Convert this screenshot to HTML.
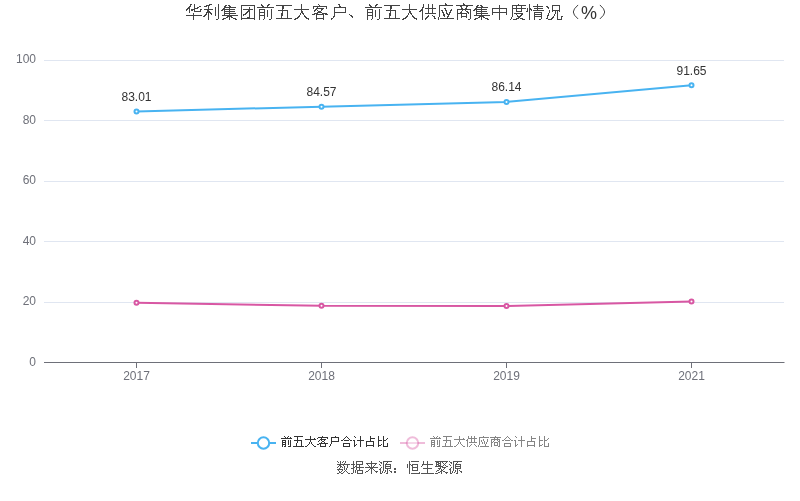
<!DOCTYPE html>
<html lang="zh"><head><meta charset="utf-8"><title>华利集团前五大客户、前五大供应商集中度情况（%）</title>
<style>html,body{margin:0;padding:0;background:#fff;overflow:hidden}svg{display:block}text{font-family:"Liberation Sans",sans-serif;font-size:12px}</style></head><body>
<div style="width:800px;height:501px;will-change:transform">
<svg width="800" height="501" viewBox="0 0 800 501">
<rect width="800" height="501" fill="#fff"/>
<g role="img" aria-label="华利集团前五大客户、前五大供应商集中度情况（%）"><title>华利集团前五大客户、前五大供应商集中度情况（%）</title><path fill="#444" shape-rendering="crispEdges" d="M190 4h2v1h-2zM194 4h1v1h-1zM190 5h1v1h-1zM194 5h1v1h-1zM189 6h2v1h-2zM194 6h1v1h-1zM199 6h2v1h-2zM188 7h2v1h-2zM194 7h1v1h-1zM197 7h2v1h-2zM187 8h3v1h-3zM194 8h4v1h-4zM186 9h2v1h-2zM189 9h1v1h-1zM191 9h4v1h-4zM200 9h2v1h-2zM186 10h1v1h-1zM189 10h1v1h-1zM191 10h2v1h-2zM194 10h1v1h-1zM200 10h1v1h-1zM189 11h1v1h-1zM194 11h7v1h-7zM189 12h1v1h-1zM193 13h1v1h-1zM193 14h1v1h-1zM186 15h16v1h-16zM193 16h1v1h-1zM193 17h1v1h-1zM193 18h1v1h-1zM193 19h1v1h-1zM209 4h3v1h-3zM218 4h1v1h-1zM206 5h4v1h-4zM218 5h1v1h-1zM204 6h3v1h-3zM208 6h1v1h-1zM218 6h1v1h-1zM208 7h1v1h-1zM215 7h1v1h-1zM218 7h1v1h-1zM208 8h1v1h-1zM215 8h1v1h-1zM218 8h1v1h-1zM204 9h9v1h-9zM215 9h1v1h-1zM218 9h1v1h-1zM207 10h2v1h-2zM215 10h1v1h-1zM218 10h1v1h-1zM207 11h3v1h-3zM215 11h1v1h-1zM218 11h1v1h-1zM206 12h5v1h-5zM215 12h1v1h-1zM218 12h1v1h-1zM206 13h1v1h-1zM208 13h1v1h-1zM210 13h2v1h-2zM215 13h1v1h-1zM218 13h1v1h-1zM205 14h2v1h-2zM208 14h1v1h-1zM211 14h1v1h-1zM215 14h1v1h-1zM218 14h1v1h-1zM204 15h2v1h-2zM208 15h1v1h-1zM215 15h1v1h-1zM218 15h1v1h-1zM203 16h2v1h-2zM208 16h1v1h-1zM218 16h1v1h-1zM208 17h1v1h-1zM218 17h1v1h-1zM208 18h1v1h-1zM218 18h1v1h-1zM208 19h1v1h-1zM216 19h2v1h-2zM225 5h2v1h-2zM228 5h2v1h-2zM224 6h2v1h-2zM229 6h2v1h-2zM224 7h12v1h-12zM223 8h2v1h-2zM229 8h1v1h-1zM222 9h13v1h-13zM221 10h2v1h-2zM224 10h1v1h-1zM229 10h1v1h-1zM224 11h11v1h-11zM224 12h1v1h-1zM229 12h1v1h-1zM224 13h12v1h-12zM224 14h1v1h-1zM229 14h1v1h-1zM222 15h16v1h-16zM227 16h5v1h-5zM226 17h2v1h-2zM229 17h1v1h-1zM231 17h2v1h-2zM223 18h3v1h-3zM229 18h1v1h-1zM233 18h3v1h-3zM222 19h2v1h-2zM229 19h1v1h-1zM235 19h2v1h-2zM241 5h14v1h-14zM241 6h1v1h-1zM254 6h1v1h-1zM241 7h1v1h-1zM249 7h1v1h-1zM254 7h1v1h-1zM241 8h1v1h-1zM249 8h1v1h-1zM254 8h1v1h-1zM241 9h1v1h-1zM243 9h10v1h-10zM254 9h1v1h-1zM241 10h1v1h-1zM248 10h2v1h-2zM254 10h1v1h-1zM241 11h1v1h-1zM247 11h3v1h-3zM254 11h1v1h-1zM241 12h1v1h-1zM246 12h2v1h-2zM249 12h1v1h-1zM254 12h1v1h-1zM241 13h1v1h-1zM245 13h2v1h-2zM249 13h1v1h-1zM254 13h1v1h-1zM241 14h1v1h-1zM243 14h3v1h-3zM249 14h1v1h-1zM254 14h1v1h-1zM241 15h1v1h-1zM243 15h1v1h-1zM249 15h1v1h-1zM254 15h1v1h-1zM241 16h1v1h-1zM249 16h1v1h-1zM254 16h1v1h-1zM241 17h1v1h-1zM247 17h3v1h-3zM254 17h1v1h-1zM241 18h14v1h-14zM241 19h1v1h-1zM254 19h1v1h-1zM261 4h1v1h-1zM268 4h2v1h-2zM261 5h2v1h-2zM267 5h2v1h-2zM262 6h2v1h-2zM267 6h1v1h-1zM257 7h17v1h-17zM259 9h6v1h-6zM271 9h1v1h-1zM259 10h1v1h-1zM264 10h1v1h-1zM267 10h1v1h-1zM271 10h1v1h-1zM259 11h1v1h-1zM264 11h1v1h-1zM267 11h1v1h-1zM271 11h1v1h-1zM259 12h6v1h-6zM267 12h1v1h-1zM271 12h1v1h-1zM259 13h1v1h-1zM264 13h1v1h-1zM267 13h1v1h-1zM271 13h1v1h-1zM259 14h1v1h-1zM264 14h1v1h-1zM267 14h1v1h-1zM271 14h1v1h-1zM259 15h6v1h-6zM267 15h1v1h-1zM271 15h1v1h-1zM259 16h1v1h-1zM264 16h1v1h-1zM267 16h1v1h-1zM271 16h1v1h-1zM259 17h1v1h-1zM264 17h1v1h-1zM271 17h1v1h-1zM259 18h1v1h-1zM264 18h1v1h-1zM271 18h1v1h-1zM259 19h1v1h-1zM263 19h1v1h-1zM269 19h2v1h-2zM276 5h16v1h-16zM282 6h2v1h-2zM282 7h2v1h-2zM282 8h2v1h-2zM282 9h1v1h-1zM278 10h10v1h-10zM282 11h1v1h-1zM287 11h1v1h-1zM282 12h1v1h-1zM287 12h1v1h-1zM281 13h2v1h-2zM287 13h1v1h-1zM281 14h2v1h-2zM287 14h1v1h-1zM281 15h2v1h-2zM287 15h1v1h-1zM281 16h1v1h-1zM287 16h1v1h-1zM281 17h1v1h-1zM287 17h1v1h-1zM276 18h16v1h-16zM301 4h1v1h-1zM301 5h1v1h-1zM301 6h1v1h-1zM301 7h1v1h-1zM301 8h1v1h-1zM294 9h15v1h-15zM301 10h1v1h-1zM301 11h2v1h-2zM301 12h2v1h-2zM300 13h1v1h-1zM302 13h2v1h-2zM300 14h1v1h-1zM303 14h1v1h-1zM299 15h1v1h-1zM304 15h1v1h-1zM298 16h2v1h-2zM304 16h2v1h-2zM297 17h2v1h-2zM305 17h2v1h-2zM295 18h3v1h-3zM306 18h3v1h-3zM294 19h2v1h-2zM308 19h1v1h-1zM318 4h1v1h-1zM319 5h1v1h-1zM313 6h14v1h-14zM313 7h1v1h-1zM317 7h1v1h-1zM326 7h1v1h-1zM313 8h1v1h-1zM316 8h8v1h-8zM326 8h1v1h-1zM315 9h2v1h-2zM321 9h2v1h-2zM314 10h2v1h-2zM317 10h1v1h-1zM321 10h1v1h-1zM314 11h1v1h-1zM318 11h3v1h-3zM317 12h5v1h-5zM314 13h4v1h-4zM322 13h5v1h-5zM312 14h3v1h-3zM316 14h8v1h-8zM325 14h3v1h-3zM316 15h1v1h-1zM323 15h1v1h-1zM316 16h1v1h-1zM323 16h1v1h-1zM316 17h1v1h-1zM323 17h1v1h-1zM316 18h8v1h-8zM316 19h1v1h-1zM323 19h1v1h-1zM338 4h2v1h-2zM339 5h1v1h-1zM339 6h2v1h-2zM334 7h12v1h-12zM334 8h1v1h-1zM345 8h1v1h-1zM334 9h1v1h-1zM345 9h1v1h-1zM334 10h1v1h-1zM345 10h1v1h-1zM334 11h1v1h-1zM345 11h1v1h-1zM334 12h12v1h-12zM334 13h1v1h-1zM334 14h1v1h-1zM334 15h1v1h-1zM333 16h2v1h-2zM333 17h1v1h-1zM331 18h2v1h-2zM331 19h1v1h-1zM349 14h1v1h-1zM350 15h2v1h-2zM351 16h2v1h-2zM352 17h1v1h-1zM369 4h1v1h-1zM376 4h2v1h-2zM369 5h2v1h-2zM375 5h2v1h-2zM370 6h2v1h-2zM375 6h1v1h-1zM365 7h17v1h-17zM367 9h6v1h-6zM379 9h1v1h-1zM367 10h1v1h-1zM372 10h1v1h-1zM375 10h1v1h-1zM379 10h1v1h-1zM367 11h1v1h-1zM372 11h1v1h-1zM375 11h1v1h-1zM379 11h1v1h-1zM367 12h6v1h-6zM375 12h1v1h-1zM379 12h1v1h-1zM367 13h1v1h-1zM372 13h1v1h-1zM375 13h1v1h-1zM379 13h1v1h-1zM367 14h1v1h-1zM372 14h1v1h-1zM375 14h1v1h-1zM379 14h1v1h-1zM367 15h6v1h-6zM375 15h1v1h-1zM379 15h1v1h-1zM367 16h1v1h-1zM372 16h1v1h-1zM375 16h1v1h-1zM379 16h1v1h-1zM367 17h1v1h-1zM372 17h1v1h-1zM379 17h1v1h-1zM367 18h1v1h-1zM372 18h1v1h-1zM379 18h1v1h-1zM367 19h1v1h-1zM371 19h1v1h-1zM377 19h2v1h-2zM384 5h16v1h-16zM390 6h2v1h-2zM390 7h2v1h-2zM390 8h2v1h-2zM390 9h1v1h-1zM386 10h10v1h-10zM390 11h1v1h-1zM395 11h1v1h-1zM390 12h1v1h-1zM395 12h1v1h-1zM389 13h2v1h-2zM395 13h1v1h-1zM389 14h2v1h-2zM395 14h1v1h-1zM389 15h2v1h-2zM395 15h1v1h-1zM389 16h1v1h-1zM395 16h1v1h-1zM389 17h1v1h-1zM395 17h1v1h-1zM384 18h16v1h-16zM409 4h1v1h-1zM409 5h1v1h-1zM409 6h1v1h-1zM409 7h1v1h-1zM409 8h1v1h-1zM402 9h15v1h-15zM409 10h1v1h-1zM409 11h2v1h-2zM409 12h2v1h-2zM408 13h1v1h-1zM410 13h2v1h-2zM408 14h1v1h-1zM411 14h1v1h-1zM407 15h1v1h-1zM412 15h1v1h-1zM406 16h2v1h-2zM412 16h2v1h-2zM405 17h2v1h-2zM413 17h2v1h-2zM403 18h3v1h-3zM414 18h3v1h-3zM402 19h2v1h-2zM416 19h1v1h-1zM423 4h1v1h-1zM428 4h1v1h-1zM432 4h1v1h-1zM423 5h1v1h-1zM428 5h1v1h-1zM432 5h1v1h-1zM423 6h1v1h-1zM428 6h1v1h-1zM432 6h1v1h-1zM422 7h2v1h-2zM428 7h1v1h-1zM432 7h1v1h-1zM422 8h1v1h-1zM425 8h11v1h-11zM421 9h2v1h-2zM428 9h1v1h-1zM432 9h1v1h-1zM420 10h3v1h-3zM428 10h1v1h-1zM432 10h1v1h-1zM419 11h2v1h-2zM422 11h1v1h-1zM428 11h1v1h-1zM432 11h1v1h-1zM422 12h1v1h-1zM428 12h1v1h-1zM432 12h1v1h-1zM422 13h1v1h-1zM425 13h11v1h-11zM422 14h1v1h-1zM422 15h1v1h-1zM428 15h1v1h-1zM432 15h1v1h-1zM422 16h1v1h-1zM427 16h2v1h-2zM433 16h2v1h-2zM422 17h1v1h-1zM426 17h2v1h-2zM434 17h1v1h-1zM422 18h1v1h-1zM425 18h2v1h-2zM434 18h2v1h-2zM422 19h1v1h-1zM425 19h1v1h-1zM445 3h1v1h-1zM445 4h2v1h-2zM439 5h14v1h-14zM439 6h1v1h-1zM439 7h1v1h-1zM439 8h1v1h-1zM444 8h2v1h-2zM439 9h1v1h-1zM445 9h1v1h-1zM451 9h1v1h-1zM439 10h1v1h-1zM441 10h2v1h-2zM445 10h2v1h-2zM450 10h2v1h-2zM439 11h1v1h-1zM442 11h1v1h-1zM446 11h1v1h-1zM450 11h1v1h-1zM439 12h1v1h-1zM442 12h2v1h-2zM446 12h1v1h-1zM449 12h2v1h-2zM439 13h1v1h-1zM443 13h1v1h-1zM446 13h2v1h-2zM449 13h1v1h-1zM439 14h1v1h-1zM443 14h2v1h-2zM447 14h3v1h-3zM439 15h1v1h-1zM443 15h2v1h-2zM448 15h1v1h-1zM439 16h1v1h-1zM444 16h1v1h-1zM447 16h2v1h-2zM438 17h1v1h-1zM447 17h1v1h-1zM438 18h1v1h-1zM440 18h14v1h-14zM438 19h1v1h-1zM463 3h1v1h-1zM463 4h2v1h-2zM456 5h17v1h-17zM460 6h2v1h-2zM466 6h2v1h-2zM461 7h1v1h-1zM466 7h1v1h-1zM461 8h2v1h-2zM465 8h2v1h-2zM457 9h14v1h-14zM457 10h1v1h-1zM462 10h1v1h-1zM465 10h1v1h-1zM470 10h1v1h-1zM457 11h1v1h-1zM461 11h1v1h-1zM466 11h2v1h-2zM470 11h1v1h-1zM457 12h1v1h-1zM460 12h2v1h-2zM467 12h2v1h-2zM470 12h1v1h-1zM457 13h10v1h-10zM468 13h1v1h-1zM470 13h1v1h-1zM457 14h1v1h-1zM461 14h1v1h-1zM466 14h1v1h-1zM470 14h1v1h-1zM457 15h1v1h-1zM461 15h1v1h-1zM466 15h1v1h-1zM470 15h1v1h-1zM457 16h1v1h-1zM461 16h6v1h-6zM470 16h1v1h-1zM457 17h1v1h-1zM461 17h1v1h-1zM466 17h1v1h-1zM470 17h1v1h-1zM457 18h1v1h-1zM470 18h1v1h-1zM457 19h1v1h-1zM468 19h2v1h-2zM477 5h2v1h-2zM480 5h2v1h-2zM476 6h2v1h-2zM481 6h2v1h-2zM476 7h12v1h-12zM475 8h2v1h-2zM481 8h1v1h-1zM474 9h13v1h-13zM473 10h2v1h-2zM476 10h1v1h-1zM481 10h1v1h-1zM476 11h11v1h-11zM476 12h1v1h-1zM481 12h1v1h-1zM476 13h12v1h-12zM476 14h1v1h-1zM481 14h1v1h-1zM474 15h16v1h-16zM479 16h5v1h-5zM478 17h2v1h-2zM481 17h1v1h-1zM483 17h2v1h-2zM475 18h3v1h-3zM481 18h1v1h-1zM485 18h3v1h-3zM474 19h2v1h-2zM481 19h1v1h-1zM487 19h2v1h-2zM499 5h1v1h-1zM499 6h1v1h-1zM499 7h1v1h-1zM492 8h15v1h-15zM492 9h1v1h-1zM499 9h1v1h-1zM506 9h1v1h-1zM492 10h1v1h-1zM499 10h1v1h-1zM506 10h1v1h-1zM492 11h1v1h-1zM499 11h1v1h-1zM506 11h1v1h-1zM492 12h15v1h-15zM492 13h1v1h-1zM499 13h1v1h-1zM506 13h1v1h-1zM492 14h1v1h-1zM499 14h1v1h-1zM506 14h1v1h-1zM499 15h1v1h-1zM499 16h1v1h-1zM499 17h1v1h-1zM499 18h1v1h-1zM499 19h1v1h-1zM518 4h1v1h-1zM512 5h14v1h-14zM512 6h1v1h-1zM516 6h1v1h-1zM521 6h1v1h-1zM512 7h1v1h-1zM516 7h1v1h-1zM521 7h1v1h-1zM512 8h14v1h-14zM512 9h1v1h-1zM516 9h1v1h-1zM521 9h1v1h-1zM512 10h1v1h-1zM516 10h1v1h-1zM521 10h1v1h-1zM512 11h1v1h-1zM516 11h6v1h-6zM512 12h1v1h-1zM512 13h1v1h-1zM514 13h9v1h-9zM512 14h1v1h-1zM516 14h1v1h-1zM521 14h2v1h-2zM512 15h1v1h-1zM517 15h1v1h-1zM520 15h2v1h-2zM512 16h1v1h-1zM517 16h4v1h-4zM511 17h1v1h-1zM518 17h2v1h-2zM511 18h1v1h-1zM516 18h3v1h-3zM520 18h3v1h-3zM510 19h1v1h-1zM513 19h4v1h-4zM522 19h3v1h-3zM529 4h1v1h-1zM537 4h1v1h-1zM529 5h1v1h-1zM537 5h1v1h-1zM529 6h1v1h-1zM533 6h10v1h-10zM529 7h1v1h-1zM537 7h1v1h-1zM527 8h1v1h-1zM529 8h2v1h-2zM534 8h9v1h-9zM527 9h1v1h-1zM529 9h3v1h-3zM537 9h1v1h-1zM527 10h1v1h-1zM529 10h1v1h-1zM531 10h1v1h-1zM533 10h11v1h-11zM526 11h2v1h-2zM529 11h1v1h-1zM529 12h1v1h-1zM534 12h8v1h-8zM529 13h1v1h-1zM534 13h1v1h-1zM541 13h1v1h-1zM529 14h1v1h-1zM534 14h8v1h-8zM529 15h1v1h-1zM534 15h1v1h-1zM541 15h1v1h-1zM529 16h1v1h-1zM534 16h8v1h-8zM529 17h1v1h-1zM534 17h1v1h-1zM541 17h1v1h-1zM529 18h1v1h-1zM534 18h1v1h-1zM541 18h1v1h-1zM529 19h1v1h-1zM534 19h1v1h-1zM539 19h2v1h-2zM552 5h8v1h-8zM546 6h2v1h-2zM552 6h1v1h-1zM559 6h1v1h-1zM547 7h2v1h-2zM552 7h1v1h-1zM559 7h1v1h-1zM548 8h1v1h-1zM552 8h1v1h-1zM559 8h1v1h-1zM552 9h1v1h-1zM559 9h1v1h-1zM549 10h1v1h-1zM552 10h8v1h-8zM549 11h1v1h-1zM552 11h1v1h-1zM555 11h1v1h-1zM557 11h1v1h-1zM559 11h1v1h-1zM549 12h1v1h-1zM555 12h1v1h-1zM557 12h1v1h-1zM548 13h1v1h-1zM555 13h1v1h-1zM557 13h1v1h-1zM548 14h1v1h-1zM554 14h1v1h-1zM557 14h1v1h-1zM547 15h2v1h-2zM554 15h1v1h-1zM557 15h1v1h-1zM547 16h1v1h-1zM553 16h1v1h-1zM557 16h1v1h-1zM561 16h2v1h-2zM547 17h1v1h-1zM552 17h2v1h-2zM557 17h1v1h-1zM561 17h1v1h-1zM546 18h2v1h-2zM551 18h2v1h-2zM557 18h1v1h-1zM561 18h1v1h-1zM548 19h4v1h-4zM557 19h5v1h-5z"/>
<path fill="none" stroke="#444" stroke-width="1" stroke-linecap="round" d="M577.8 5.2Q573.2 9.2 573.3 12Q573.2 14.8 577.8 18.7M600.2 5.2Q604.8 9.2 604.7 12Q604.8 14.8 600.2 18.7"/>
<text x="581" y="19" style="font-size:18px" fill="#333">%</text></g>
<path stroke="#e0e6f1" stroke-width="1" fill="none" d="M44 60.5H784M44 120.5H784M44 181.5H784M44 241.5H784M44 302.5H784"/>
<path stroke="#6e7079" stroke-width="1" fill="none" d="M44 362.5H784.5M136.5 362.5V368M321.5 362.5V368M506.5 362.5V368M691.5 362.5V368"/>
<text x="36" y="63" text-anchor="end" fill="#6e7079">100</text>
<text x="36" y="124" text-anchor="end" fill="#6e7079">80</text>
<text x="36" y="184" text-anchor="end" fill="#6e7079">60</text>
<text x="36" y="245" text-anchor="end" fill="#6e7079">40</text>
<text x="36" y="305" text-anchor="end" fill="#6e7079">20</text>
<text x="36" y="366" text-anchor="end" fill="#6e7079">0</text>
<text x="136.5" y="380" text-anchor="middle" fill="#6e7079">2017</text>
<text x="321.5" y="380" text-anchor="middle" fill="#6e7079">2018</text>
<text x="506.5" y="380" text-anchor="middle" fill="#6e7079">2019</text>
<text x="691.5" y="380" text-anchor="middle" fill="#6e7079">2021</text>
<polyline fill="none" stroke="#d857a3" stroke-width="2" stroke-linejoin="bevel" points="136.5,302.86 321.5,305.76 506.5,305.97 691.5,301.56"/>
<circle cx="136.5" cy="302.86" r="2" fill="#fff" stroke="#d857a3" stroke-width="2"/>
<circle cx="321.5" cy="305.76" r="2" fill="#fff" stroke="#d857a3" stroke-width="2"/>
<circle cx="506.5" cy="305.97" r="2" fill="#fff" stroke="#d857a3" stroke-width="2"/>
<circle cx="691.5" cy="301.56" r="2" fill="#fff" stroke="#d857a3" stroke-width="2"/>
<polyline fill="none" stroke="#48b3f1" stroke-width="2" stroke-linejoin="bevel" points="136.5,111.38 321.5,106.66 506.5,101.91 691.5,85.25"/>
<circle cx="136.5" cy="111.38" r="2" fill="#fff" stroke="#48b3f1" stroke-width="2"/>
<circle cx="321.5" cy="106.66" r="2" fill="#fff" stroke="#48b3f1" stroke-width="2"/>
<circle cx="506.5" cy="101.91" r="2" fill="#fff" stroke="#48b3f1" stroke-width="2"/>
<circle cx="691.5" cy="85.25" r="2" fill="#fff" stroke="#48b3f1" stroke-width="2"/>
<text x="136.5" y="101" text-anchor="middle" fill="#333">83.01</text>
<text x="321.5" y="96" text-anchor="middle" fill="#333">84.57</text>
<text x="506.5" y="91" text-anchor="middle" fill="#333">86.14</text>
<text x="691.5" y="75" text-anchor="middle" fill="#333">91.65</text>
<path stroke="#48b3f1" stroke-width="2" fill="none" d="M251 443H276"/>
<circle cx="263.5" cy="443" r="5.7" fill="#fff" stroke="#48b3f1" stroke-width="2"/>
<g role="img" aria-label="前五大客户合计占比"><title>前五大客户合计占比</title><path fill="#333" shape-rendering="crispEdges" d="M284 436h1v1h-1zM288 436h1v1h-1zM285 437h1v1h-1zM287 437h1v1h-1zM290 437h1v1h-1zM281 438h11v1h-11zM282 440h4v1h-4zM288 440h1v1h-1zM290 440h1v1h-1zM282 441h1v1h-1zM285 441h1v1h-1zM288 441h1v1h-1zM290 441h1v1h-1zM282 442h4v1h-4zM288 442h1v1h-1zM290 442h1v1h-1zM282 443h1v1h-1zM285 443h1v1h-1zM288 443h1v1h-1zM290 443h1v1h-1zM282 444h4v1h-4zM288 444h1v1h-1zM290 444h1v1h-1zM282 445h1v1h-1zM285 445h1v1h-1zM290 445h1v1h-1zM282 446h1v1h-1zM284 446h2v1h-2zM288 446h3v1h-3zM294 436h9v1h-9zM297 437h1v1h-1zM297 438h1v1h-1zM297 439h1v1h-1zM294 440h8v1h-8zM297 441h1v1h-1zM301 441h1v1h-1zM297 442h1v1h-1zM301 442h1v1h-1zM296 443h1v1h-1zM301 443h1v1h-1zM296 444h1v1h-1zM301 444h1v1h-1zM296 445h1v1h-1zM301 445h1v1h-1zM293 446h11v1h-11zM310 436h1v1h-1zM310 437h1v1h-1zM310 438h1v1h-1zM314 438h1v1h-1zM305 439h11v1h-11zM310 440h1v1h-1zM310 441h1v1h-1zM309 442h1v1h-1zM311 442h1v1h-1zM309 443h1v1h-1zM311 443h1v1h-1zM308 444h1v1h-1zM312 444h1v1h-1zM307 445h1v1h-1zM313 445h1v1h-1zM305 446h2v1h-2zM314 446h2v1h-2zM322 436h1v1h-1zM318 437h10v1h-10zM317 438h1v1h-1zM321 438h1v1h-1zM327 438h1v1h-1zM320 439h6v1h-6zM319 440h1v1h-1zM321 440h1v1h-1zM324 440h1v1h-1zM318 441h1v1h-1zM322 441h2v1h-2zM321 442h1v1h-1zM324 442h1v1h-1zM319 443h9v1h-9zM317 444h2v1h-2zM320 444h1v1h-1zM325 444h1v1h-1zM320 445h1v1h-1zM325 445h1v1h-1zM320 446h6v1h-6zM335 436h1v1h-1zM331 437h8v1h-8zM331 438h1v1h-1zM338 438h1v1h-1zM331 439h1v1h-1zM338 439h1v1h-1zM331 440h1v1h-1zM338 440h1v1h-1zM331 441h8v1h-8zM331 442h1v1h-1zM331 443h1v1h-1zM330 444h1v1h-1zM330 445h1v1h-1zM329 446h1v1h-1zM346 436h1v1h-1zM345 437h1v1h-1zM347 437h1v1h-1zM344 438h1v1h-1zM348 438h1v1h-1zM343 439h1v1h-1zM349 439h1v1h-1zM341 440h2v1h-2zM344 440h5v1h-5zM350 440h2v1h-2zM343 443h7v1h-7zM343 444h1v1h-1zM349 444h1v1h-1zM343 445h1v1h-1zM349 445h1v1h-1zM343 446h7v1h-7zM354 436h1v1h-1zM360 436h1v1h-1zM355 437h1v1h-1zM360 437h1v1h-1zM360 438h1v1h-1zM360 439h1v1h-1zM353 440h2v1h-2zM357 440h7v1h-7zM354 441h1v1h-1zM360 441h1v1h-1zM354 442h1v1h-1zM360 442h1v1h-1zM354 443h1v1h-1zM360 443h1v1h-1zM354 444h1v1h-1zM356 444h1v1h-1zM360 444h1v1h-1zM354 445h2v1h-2zM360 445h1v1h-1zM354 446h1v1h-1zM360 446h1v1h-1zM370 436h1v1h-1zM370 437h1v1h-1zM370 438h5v1h-5zM370 439h1v1h-1zM370 440h1v1h-1zM366 441h8v1h-8zM366 442h1v1h-1zM373 442h1v1h-1zM366 443h1v1h-1zM373 443h1v1h-1zM366 444h1v1h-1zM373 444h1v1h-1zM366 445h8v1h-8zM366 446h1v1h-1zM373 446h1v1h-1zM378 436h1v1h-1zM383 436h1v1h-1zM378 437h1v1h-1zM383 437h1v1h-1zM378 438h1v1h-1zM383 438h1v1h-1zM387 438h1v1h-1zM378 439h1v1h-1zM383 439h1v1h-1zM386 439h1v1h-1zM378 440h4v1h-4zM383 440h3v1h-3zM378 441h1v1h-1zM383 441h1v1h-1zM378 442h1v1h-1zM383 442h1v1h-1zM378 443h1v1h-1zM383 443h1v1h-1zM387 443h1v1h-1zM378 444h1v1h-1zM381 444h1v1h-1zM383 444h1v1h-1zM387 444h1v1h-1zM378 445h3v1h-3zM383 445h1v1h-1zM387 445h1v1h-1zM378 446h1v1h-1zM383 446h5v1h-5z"/></g>
<path stroke="#d857a3" stroke-opacity="0.4" stroke-width="2" fill="none" d="M400 443H425"/>
<circle cx="412.5" cy="443" r="5.7" fill="#fff" fill-opacity="0.4" stroke="#d857a3" stroke-opacity="0.4" stroke-width="2"/>
<g role="img" aria-label="前五大供应商合计占比"><title>前五大供应商合计占比</title><path fill="#858585" shape-rendering="crispEdges" d="M433 436h1v1h-1zM437 436h1v1h-1zM434 437h1v1h-1zM436 437h1v1h-1zM439 437h1v1h-1zM430 438h11v1h-11zM431 440h4v1h-4zM437 440h1v1h-1zM439 440h1v1h-1zM431 441h1v1h-1zM434 441h1v1h-1zM437 441h1v1h-1zM439 441h1v1h-1zM431 442h4v1h-4zM437 442h1v1h-1zM439 442h1v1h-1zM431 443h1v1h-1zM434 443h1v1h-1zM437 443h1v1h-1zM439 443h1v1h-1zM431 444h4v1h-4zM437 444h1v1h-1zM439 444h1v1h-1zM431 445h1v1h-1zM434 445h1v1h-1zM439 445h1v1h-1zM431 446h1v1h-1zM433 446h2v1h-2zM437 446h3v1h-3zM443 436h9v1h-9zM446 437h1v1h-1zM446 438h1v1h-1zM446 439h1v1h-1zM443 440h8v1h-8zM446 441h1v1h-1zM450 441h1v1h-1zM446 442h1v1h-1zM450 442h1v1h-1zM445 443h1v1h-1zM450 443h1v1h-1zM445 444h1v1h-1zM450 444h1v1h-1zM445 445h1v1h-1zM450 445h1v1h-1zM442 446h11v1h-11zM459 436h1v1h-1zM459 437h1v1h-1zM459 438h1v1h-1zM463 438h1v1h-1zM454 439h11v1h-11zM459 440h1v1h-1zM459 441h1v1h-1zM458 442h1v1h-1zM460 442h1v1h-1zM458 443h1v1h-1zM460 443h1v1h-1zM457 444h1v1h-1zM461 444h1v1h-1zM456 445h1v1h-1zM462 445h1v1h-1zM454 446h2v1h-2zM463 446h2v1h-2zM468 436h1v1h-1zM471 436h1v1h-1zM474 436h1v1h-1zM468 437h1v1h-1zM471 437h1v1h-1zM474 437h1v1h-1zM468 438h9v1h-9zM467 439h1v1h-1zM471 439h1v1h-1zM474 439h1v1h-1zM466 440h2v1h-2zM471 440h1v1h-1zM474 440h1v1h-1zM467 441h1v1h-1zM471 441h1v1h-1zM474 441h1v1h-1zM467 442h1v1h-1zM469 442h8v1h-8zM467 443h1v1h-1zM467 444h1v1h-1zM471 444h1v1h-1zM474 444h1v1h-1zM467 445h1v1h-1zM470 445h1v1h-1zM475 445h1v1h-1zM467 446h1v1h-1zM469 446h1v1h-1zM476 446h1v1h-1zM483 436h1v1h-1zM479 437h10v1h-10zM479 438h1v1h-1zM479 439h1v1h-1zM483 439h1v1h-1zM487 439h1v1h-1zM479 440h1v1h-1zM481 440h1v1h-1zM483 440h1v1h-1zM487 440h1v1h-1zM479 441h1v1h-1zM481 441h1v1h-1zM484 441h1v1h-1zM487 441h1v1h-1zM479 442h1v1h-1zM482 442h1v1h-1zM484 442h1v1h-1zM486 442h1v1h-1zM479 443h1v1h-1zM482 443h1v1h-1zM484 443h1v1h-1zM486 443h1v1h-1zM479 444h1v1h-1zM485 444h1v1h-1zM478 445h1v1h-1zM485 445h1v1h-1zM478 446h1v1h-1zM480 446h9v1h-9zM495 436h1v1h-1zM490 437h11v1h-11zM494 438h1v1h-1zM497 438h1v1h-1zM491 439h9v1h-9zM491 440h1v1h-1zM494 440h1v1h-1zM497 440h1v1h-1zM499 440h1v1h-1zM491 441h1v1h-1zM493 441h1v1h-1zM498 441h2v1h-2zM491 442h2v1h-2zM494 442h4v1h-4zM499 442h1v1h-1zM491 443h1v1h-1zM494 443h1v1h-1zM497 443h1v1h-1zM499 443h1v1h-1zM491 444h1v1h-1zM494 444h1v1h-1zM497 444h1v1h-1zM499 444h1v1h-1zM491 445h1v1h-1zM494 445h4v1h-4zM499 445h1v1h-1zM491 446h1v1h-1zM498 446h2v1h-2zM507 436h1v1h-1zM506 437h1v1h-1zM508 437h1v1h-1zM505 438h1v1h-1zM509 438h1v1h-1zM504 439h1v1h-1zM510 439h1v1h-1zM502 440h2v1h-2zM505 440h5v1h-5zM511 440h2v1h-2zM504 443h7v1h-7zM504 444h1v1h-1zM510 444h1v1h-1zM504 445h1v1h-1zM510 445h1v1h-1zM504 446h7v1h-7zM515 436h1v1h-1zM521 436h1v1h-1zM516 437h1v1h-1zM521 437h1v1h-1zM521 438h1v1h-1zM521 439h1v1h-1zM514 440h2v1h-2zM518 440h7v1h-7zM515 441h1v1h-1zM521 441h1v1h-1zM515 442h1v1h-1zM521 442h1v1h-1zM515 443h1v1h-1zM521 443h1v1h-1zM515 444h1v1h-1zM517 444h1v1h-1zM521 444h1v1h-1zM515 445h2v1h-2zM521 445h1v1h-1zM515 446h1v1h-1zM521 446h1v1h-1zM531 436h1v1h-1zM531 437h1v1h-1zM531 438h5v1h-5zM531 439h1v1h-1zM531 440h1v1h-1zM527 441h8v1h-8zM527 442h1v1h-1zM534 442h1v1h-1zM527 443h1v1h-1zM534 443h1v1h-1zM527 444h1v1h-1zM534 444h1v1h-1zM527 445h8v1h-8zM527 446h1v1h-1zM534 446h1v1h-1zM539 436h1v1h-1zM544 436h1v1h-1zM539 437h1v1h-1zM544 437h1v1h-1zM539 438h1v1h-1zM544 438h1v1h-1zM548 438h1v1h-1zM539 439h1v1h-1zM544 439h1v1h-1zM547 439h1v1h-1zM539 440h4v1h-4zM544 440h3v1h-3zM539 441h1v1h-1zM544 441h1v1h-1zM539 442h1v1h-1zM544 442h1v1h-1zM539 443h1v1h-1zM544 443h1v1h-1zM548 443h1v1h-1zM539 444h1v1h-1zM542 444h1v1h-1zM544 444h1v1h-1zM548 444h1v1h-1zM539 445h3v1h-3zM544 445h1v1h-1zM548 445h1v1h-1zM539 446h1v1h-1zM544 446h5v1h-5z"/></g>
<g role="img" aria-label="数据来源：恒生聚源"><title>数据来源：恒生聚源</title><path fill="#555" shape-rendering="crispEdges" d="M337 461h1v1h-1zM340 461h1v1h-1zM343 461h1v1h-1zM345 461h1v1h-1zM338 462h1v1h-1zM340 462h1v1h-1zM342 462h1v1h-1zM345 462h1v1h-1zM340 463h1v1h-1zM344 463h1v1h-1zM337 464h13v1h-13zM339 465h2v1h-2zM343 465h1v1h-1zM347 465h1v1h-1zM338 466h1v1h-1zM340 466h2v1h-2zM344 466h1v1h-1zM347 466h1v1h-1zM337 467h1v1h-1zM340 467h1v1h-1zM342 467h1v1h-1zM344 467h1v1h-1zM347 467h1v1h-1zM339 468h1v1h-1zM344 468h1v1h-1zM346 468h1v1h-1zM337 469h6v1h-6zM344 469h1v1h-1zM346 469h1v1h-1zM338 470h1v1h-1zM342 470h1v1h-1zM345 470h1v1h-1zM339 471h1v1h-1zM341 471h1v1h-1zM344 471h1v1h-1zM346 471h1v1h-1zM339 472h2v1h-2zM343 472h1v1h-1zM347 472h1v1h-1zM337 473h2v1h-2zM341 473h2v1h-2zM348 473h2v1h-2zM353 461h1v1h-1zM356 461h7v1h-7zM353 462h1v1h-1zM356 462h1v1h-1zM362 462h1v1h-1zM353 463h1v1h-1zM356 463h1v1h-1zM362 463h1v1h-1zM351 464h4v1h-4zM356 464h7v1h-7zM353 465h1v1h-1zM356 465h1v1h-1zM359 465h1v1h-1zM353 466h1v1h-1zM355 466h2v1h-2zM359 466h1v1h-1zM353 467h2v1h-2zM356 467h8v1h-8zM351 468h3v1h-3zM356 468h1v1h-1zM359 468h1v1h-1zM353 469h1v1h-1zM356 469h1v1h-1zM359 469h1v1h-1zM353 470h1v1h-1zM355 470h1v1h-1zM357 470h6v1h-6zM353 471h1v1h-1zM355 471h1v1h-1zM357 471h1v1h-1zM362 471h1v1h-1zM353 472h1v1h-1zM355 472h1v1h-1zM357 472h1v1h-1zM362 472h1v1h-1zM351 473h2v1h-2zM357 473h6v1h-6zM371 461h1v1h-1zM371 462h1v1h-1zM366 463h11v1h-11zM367 464h1v1h-1zM371 464h1v1h-1zM375 464h1v1h-1zM368 465h1v1h-1zM371 465h1v1h-1zM374 465h1v1h-1zM369 466h1v1h-1zM371 466h1v1h-1zM373 466h1v1h-1zM365 467h13v1h-13zM370 468h3v1h-3zM369 469h1v1h-1zM371 469h1v1h-1zM373 469h1v1h-1zM368 470h1v1h-1zM371 470h1v1h-1zM374 470h1v1h-1zM366 471h2v1h-2zM371 471h1v1h-1zM375 471h3v1h-3zM365 472h1v1h-1zM371 472h1v1h-1zM376 472h1v1h-1zM371 473h1v1h-1zM379 461h1v1h-1zM383 461h9v1h-9zM380 462h2v1h-2zM383 462h1v1h-1zM387 462h1v1h-1zM381 463h1v1h-1zM383 463h1v1h-1zM386 463h1v1h-1zM379 464h1v1h-1zM383 464h1v1h-1zM385 464h6v1h-6zM380 465h1v1h-1zM383 465h1v1h-1zM385 465h1v1h-1zM390 465h1v1h-1zM383 466h1v1h-1zM385 466h6v1h-6zM381 467h1v1h-1zM383 467h1v1h-1zM385 467h1v1h-1zM390 467h1v1h-1zM380 468h1v1h-1zM383 468h1v1h-1zM385 468h6v1h-6zM379 469h2v1h-2zM383 469h1v1h-1zM387 469h1v1h-1zM380 470h1v1h-1zM383 470h1v1h-1zM385 470h1v1h-1zM387 470h1v1h-1zM389 470h1v1h-1zM380 471h1v1h-1zM382 471h1v1h-1zM385 471h1v1h-1zM387 471h1v1h-1zM390 471h2v1h-2zM380 472h1v1h-1zM382 472h1v1h-1zM384 472h1v1h-1zM387 472h1v1h-1zM391 472h1v1h-1zM380 473h2v1h-2zM386 473h2v1h-2zM394 468h2v1h-2zM394 469h2v1h-2zM394 471h2v1h-2zM394 472h2v1h-2zM409 461h1v1h-1zM411 461h8v1h-8zM409 462h1v1h-1zM409 463h1v1h-1zM407 464h1v1h-1zM409 464h2v1h-2zM412 464h6v1h-6zM407 465h1v1h-1zM409 465h1v1h-1zM411 465h2v1h-2zM417 465h1v1h-1zM407 466h1v1h-1zM409 466h1v1h-1zM412 466h1v1h-1zM417 466h1v1h-1zM407 467h1v1h-1zM409 467h1v1h-1zM412 467h6v1h-6zM409 468h1v1h-1zM412 468h1v1h-1zM417 468h1v1h-1zM409 469h1v1h-1zM412 469h1v1h-1zM417 469h1v1h-1zM409 470h1v1h-1zM412 470h6v1h-6zM409 471h1v1h-1zM409 472h1v1h-1zM419 472h1v1h-1zM409 473h1v1h-1zM411 473h9v1h-9zM423 461h1v1h-1zM427 461h1v1h-1zM423 462h1v1h-1zM427 462h1v1h-1zM423 463h1v1h-1zM427 463h1v1h-1zM422 464h11v1h-11zM422 465h1v1h-1zM427 465h1v1h-1zM421 466h1v1h-1zM427 466h1v1h-1zM427 467h1v1h-1zM423 468h9v1h-9zM427 469h1v1h-1zM427 470h1v1h-1zM427 471h1v1h-1zM427 472h1v1h-1zM421 473h13v1h-13zM435 461h13v1h-13zM436 462h3v1h-3zM440 462h1v1h-1zM442 462h1v1h-1zM446 462h1v1h-1zM436 463h1v1h-1zM438 463h3v1h-3zM443 463h1v1h-1zM445 463h1v1h-1zM436 464h3v1h-3zM440 464h1v1h-1zM444 464h1v1h-1zM436 465h1v1h-1zM438 465h3v1h-3zM443 465h1v1h-1zM445 465h1v1h-1zM435 466h8v1h-8zM446 466h2v1h-2zM440 467h1v1h-1zM442 467h4v1h-4zM438 468h3v1h-3zM444 468h1v1h-1zM439 469h1v1h-1zM441 469h1v1h-1zM443 469h1v1h-1zM437 470h2v1h-2zM441 470h2v1h-2zM436 471h1v1h-1zM440 471h2v1h-2zM443 471h2v1h-2zM438 472h2v1h-2zM441 472h1v1h-1zM445 472h3v1h-3zM435 473h3v1h-3zM441 473h1v1h-1zM446 473h1v1h-1zM449 461h1v1h-1zM453 461h9v1h-9zM450 462h2v1h-2zM453 462h1v1h-1zM457 462h1v1h-1zM451 463h1v1h-1zM453 463h1v1h-1zM456 463h1v1h-1zM449 464h1v1h-1zM453 464h1v1h-1zM455 464h6v1h-6zM450 465h1v1h-1zM453 465h1v1h-1zM455 465h1v1h-1zM460 465h1v1h-1zM453 466h1v1h-1zM455 466h6v1h-6zM451 467h1v1h-1zM453 467h1v1h-1zM455 467h1v1h-1zM460 467h1v1h-1zM450 468h1v1h-1zM453 468h1v1h-1zM455 468h6v1h-6zM449 469h2v1h-2zM453 469h1v1h-1zM457 469h1v1h-1zM450 470h1v1h-1zM453 470h1v1h-1zM455 470h1v1h-1zM457 470h1v1h-1zM459 470h1v1h-1zM450 471h1v1h-1zM452 471h1v1h-1zM455 471h1v1h-1zM457 471h1v1h-1zM460 471h2v1h-2zM450 472h1v1h-1zM452 472h1v1h-1zM454 472h1v1h-1zM457 472h1v1h-1zM461 472h1v1h-1zM450 473h2v1h-2zM456 473h2v1h-2z"/></g>
</svg></div></body></html>
